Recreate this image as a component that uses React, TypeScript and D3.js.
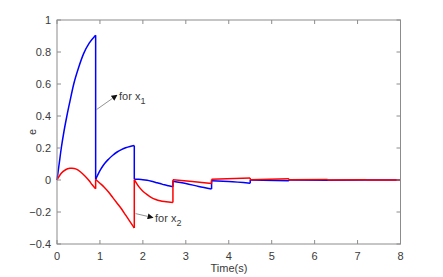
import React from "react";
import * as d3 from "d3";

// error of x1 (blue), sampled from the figure: [time, e]
const x1Error: [number, number][] = [
  [0, 0], [0.05, 0.1], [0.1, 0.2], [0.16, 0.3], [0.23, 0.4], [0.3, 0.49], [0.39, 0.6],
  [0.5, 0.7], [0.62, 0.79], [0.75, 0.855], [0.9, 0.905],
  [0.9, 0.004], [1.0, 0.058], [1.1, 0.1], [1.2, 0.13], [1.3, 0.155], [1.4, 0.175],
  [1.5, 0.19], [1.6, 0.202], [1.7, 0.21], [1.8, 0.215],
  [1.8, 0.005], [1.9, 0.004], [2.0, 0.002], [2.1, -0.002], [2.2, -0.008], [2.3, -0.015],
  [2.4, -0.022], [2.5, -0.03], [2.6, -0.036], [2.7, -0.042],
  [2.7, -0.008], [3.0, -0.022], [3.3, -0.04], [3.6, -0.056],
  [3.6, -0.004], [4.0, -0.01], [4.5, -0.02],
  [4.5, 0], [5.4, -0.004],
  [5.4, 0], [6.3, -0.001], [7.2, 0], [8, 0],
];

// error of x2 (red)
const x2Error: [number, number][] = [
  [0, 0], [0.1, 0.042], [0.2, 0.064], [0.3, 0.073], [0.35, 0.074], [0.45, 0.068],
  [0.55, 0.05], [0.65, 0.025], [0.75, -0.005], [0.82, -0.03], [0.9, -0.055],
  [0.9, 0.004], [1.0, -0.02], [1.1, -0.045], [1.2, -0.075], [1.3, -0.11], [1.4, -0.145],
  [1.5, -0.18], [1.6, -0.22], [1.7, -0.26], [1.8, -0.3],
  [1.8, 0.002], [1.9, -0.04], [2.0, -0.07], [2.1, -0.092], [2.2, -0.11], [2.3, -0.122],
  [2.4, -0.13], [2.5, -0.135], [2.6, -0.138], [2.7, -0.14],
  [2.7, 0.002], [3.15, -0.01], [3.6, -0.022],
  [3.6, 0.004], [4.5, 0.012],
  [4.5, 0.002], [5.4, 0.008],
  [5.4, 0.001], [6.3, 0.003], [6.3, 0], [7.2, 0.001], [7.2, 0], [8, 0],
];

const xTicks = [0, 1, 2, 3, 4, 5, 6, 7, 8];
const yTicks = [-0.4, -0.2, 0, 0.2, 0.4, 0.6, 0.8, 1];

const W = 443;
const H = 277;
const left = 57, right = 400.5, top = 20, bottom = 244;
const font = "'Liberation Sans Narrow', 'Liberation Sans', Arial, sans-serif";
const axisColor = "#8c8c8c";
const textColor = "#3a3a3a";

type Pt = [number, number];

// split a series at the resets (two points with the same time)
function splitAtJumps(pts: Pt[]) {
  const segs: Pt[][] = [[pts[0]]];
  const jumps: [Pt, Pt][] = [];
  for (let i = 1; i < pts.length; i++) {
    if (pts[i][0] === pts[i - 1][0]) {
      jumps.push([pts[i - 1], pts[i]]);
      segs.push([pts[i]]);
    } else {
      segs[segs.length - 1].push(pts[i]);
    }
  }
  return { segs, jumps };
}

export default function App() {
  const x = d3.scaleLinear().domain([0, 8]).range([left, right]);
  const y = d3.scaleLinear().domain([-0.4, 1]).range([bottom, top]);
  const line = d3.line<Pt>().x(d => x(d[0])).y(d => y(d[1])).curve(d3.curveMonotoneX);
  const tick = 4;

  const series = (pts: Pt[], color: string) => {
    const { segs, jumps } = splitAtJumps(pts);
    return (
      <g stroke={color} strokeWidth={1.5} fill="none" strokeLinejoin="round">
        {segs.map((s, i) => <path key={"s" + i} d={line(s) || ""} />)}
        {jumps.map((j, i) => (
          <line key={"j" + i} x1={x(j[0][0])} x2={x(j[1][0])} y1={y(j[0][1])} y2={y(j[1][1])} />
        ))}
      </g>
    );
  };

  return (
    <svg width={W} height={H} style={{ position: "absolute", left: 0, top: 0, background: "#fff" }}
      fontFamily={font}>
      <defs>
        <marker id="ah" viewBox="0 0 10 10" refX="9" refY="5" markerWidth="6" markerHeight="6"
          orient="auto" markerUnits="userSpaceOnUse">
          <path d="M0,0 L10,5 L0,10 z" fill="#111" />
        </marker>
      </defs>

      {series(x1Error, "#0000ff")}
      {series(x2Error, "#ff0000")}

      {/* axes box */}
      <rect x={left} y={top} width={right - left} height={bottom - top} fill="none"
        stroke={axisColor} strokeWidth={1} />
      {xTicks.map(t => (
        <g key={"x" + t}>
          <line x1={x(t)} x2={x(t)} y1={bottom} y2={bottom - tick} stroke={axisColor} />
          <line x1={x(t)} x2={x(t)} y1={top} y2={top + tick} stroke={axisColor} />
          <text x={x(t)} y={260} fontSize={11} fill={textColor} textAnchor="middle">{t}</text>
        </g>
      ))}
      {yTicks.map(t => (
        <g key={"y" + t}>
          <line x1={left} x2={left + tick} y1={y(t)} y2={y(t)} stroke={axisColor} />
          <line x1={right} x2={right - tick} y1={y(t)} y2={y(t)} stroke={axisColor} />
          <text x={51} y={y(t) + 4} fontSize={11} fill={textColor} textAnchor="end">
            {d3.format("~g")(t)}
          </text>
        </g>
      ))}

      <text x={229} y={272} fontSize={11} fill={textColor} textAnchor="middle">Time(s)</text>
      <text transform={`translate(36,${(top + bottom) / 2}) rotate(-90)`} fontSize={11}
        fill={textColor} textAnchor="middle">e</text>

      {/* annotations */}
      <line x1={x(0.92)} y1={y(0.44)} x2={117} y2={y(0.53)} stroke="#777" strokeWidth={0.8}
        markerEnd="url(#ah)" />
      <text x={119} y={100} fontSize={11} fill={textColor}>
        for x<tspan fontSize={9} dy={4}>1</tspan>
      </text>
      <line x1={x(1.83)} y1={y(-0.21)} x2={153} y2={y(-0.235)} stroke="#777" strokeWidth={0.8}
        markerEnd="url(#ah)" />
      <text x={155} y={222} fontSize={11} fill={textColor}>
        for x<tspan fontSize={9} dy={4}>2</tspan>
      </text>
    </svg>
  );
}
